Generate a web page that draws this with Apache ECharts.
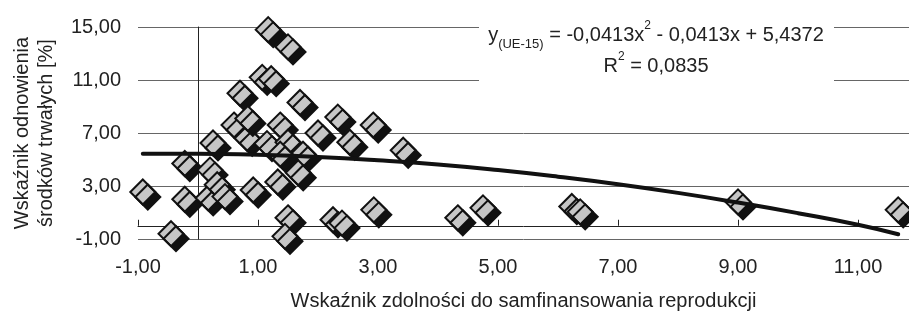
<!DOCTYPE html>
<html>
<head>
<meta charset="utf-8">
<script src="https://cdn.jsdelivr.net/npm/echarts@6/dist/echarts.min.js"></script>
<style>
  html, body { margin: 0; padding: 0; background: #fff; }
  #chart { width: 909px; height: 316px; }
</style>
</head>
<body>
<div id="chart"></div>
<script>
// punkty (x = zdolnosc do samofinansowania, y = wskaznik odnowienia)
var pointsX = [-0.92, -0.45, -0.22, -0.22, 0.2, 0.17, 0.32, 0.45, 0.92, 0.25,
               0.6, 0.82, 0.7, 0.83, 1.07, 1.22, 1.17, 1.5, 1.7, 1.37,
               1.15, 1.5, 1.75, 1.37, 1.67, 1.33, 2.0, 2.33, 2.53, 2.92,
               3.42, 1.5, 1.45, 2.25, 2.4, 2.93, 4.33, 4.75, 6.23, 6.37,
               9.0, 11.67];
var pointsY = [2.55, -0.6, 4.7, 2.0, 4.2, 2.1, 3.1, 2.2, 2.7, 6.25,
               7.6, 6.6, 10.0, 8.1, 11.2, 11.1, 14.8, 13.5, 9.3, 7.6,
               6.2, 6.3, 5.4, 5.4, 4.0, 3.3, 7.0, 8.2, 6.3, 7.6,
               5.7, 0.6, -0.8, 0.45, 0.2, 1.2, 0.6, 1.35, 1.45, 1.05,
               1.8, 1.2];

// linia trendu
var trendX = [-0.92, 0, 1, 2, 3, 4, 5, 6, 7, 8, 9, 10, 11, 11.67];
var trendY = [5.44, 5.44, 5.35, 5.19, 4.94, 4.62, 4.2, 3.7, 3.13, 2.48, 1.75, 0.95, 0.08, -0.64];

var xTicks = { min: -1, max: 11.85, interval: 2 };
var yTicks = { min: -1, max: 15, interval: 4 };

var FONT = 'Liberation Sans, Arial, sans-serif';

function fmt(v) {
    return v.toFixed(2).replace('.', ',');
}

var scatterData = pointsX.map(function (x, i) { return [x, pointsY[i]]; });
var trendData = trendX.map(function (x, i) { return [x, trendY[i]]; });

var myChart = echarts.init(document.getElementById('chart'));
var option = {
    backgroundColor: '#fff',
    animation: false,
    grid: { left: 138, right: 0, top: 27, bottom: 77 },
    xAxis: [
        {
            type: 'value',
            min: xTicks.min, max: xTicks.max, interval: xTicks.interval,
            axisLine: { show: false, onZero: false },
            axisTick: { show: false },
            splitLine: { show: false },
            axisLabel: { formatter: fmt, fontSize: 20, fontFamily: FONT, color: '#222', margin: 18, showMaxLabel: false },
            name: 'Wskaźnik zdolności do samfinansowania reprodukcji',
            nameLocation: 'middle',
            nameGap: 52,
            nameTextStyle: { fontSize: 20, fontFamily: FONT, color: '#222' }
        },
        {
            type: 'value',
            min: xTicks.min, max: xTicks.max, interval: xTicks.interval,
            axisLine: { show: true, onZero: true, lineStyle: { color: '#222', width: 1 } },
            axisTick: { show: true, length: 6, lineStyle: { color: '#222' } },
            splitLine: { show: false },
            axisLabel: { show: false }
        }
    ],
    yAxis: [
        {
            type: 'value',
            min: yTicks.min, max: yTicks.max, interval: yTicks.interval,
            axisLine: { show: false, onZero: false },
            axisTick: { show: false },
            splitLine: { show: true, lineStyle: { color: '#666', width: 1 } },
            axisLabel: { formatter: fmt, fontSize: 20, fontFamily: FONT, color: '#222', margin: 17 },
            name: 'Wskaźnik odnowienia\nśrodków trwałych [%]',
            nameLocation: 'middle',
            nameGap: 80,
            nameTextStyle: { fontSize: 20, fontFamily: FONT, color: '#222', lineHeight: 24 }
        },
        {
            type: 'value',
            min: yTicks.min, max: yTicks.max, interval: yTicks.interval,
            axisLine: { show: true, onZero: true, lineStyle: { color: '#222', width: 1 } },
            axisTick: { show: false },
            splitLine: { show: false },
            axisLabel: { show: false }
        }
    ],
    series: [
        {
            type: 'scatter',
            data: scatterData,
            symbol: 'diamond',
            symbolSize: 25,
            itemStyle: {
                color: '#c6c6c6',
                borderColor: '#111',
                borderWidth: 2,
                opacity: 1,
                shadowColor: '#111',
                shadowBlur: 0,
                shadowOffsetX: 5,
                shadowOffsetY: 5
            },
            z: 2
        },
        {
            type: 'line',
            data: trendData,
            smooth: true,
            showSymbol: false,
            lineStyle: { color: '#111', width: 4, cap: 'round' },
            z: 3
        }
    ],
    graphic: [
        {
            type: 'rect',
            shape: { x: 479, y: 18, width: 355, height: 70 },
            style: { fill: '#fff' },
            z: 10
        },
        {
            type: 'text',
            x: 656,
            y: 20,
            z: 11,
            style: {
                text: '{n|y}{sub|(UE-15)}{n| = -0,0413x}{sup|2}{n| - 0,0413x + 5,4372}\n{n|R}{sup|2}{n| = 0,0835}',
                align: 'center',
                verticalAlign: 'top',
                fill: '#222',
                rich: {
                    n: { fontSize: 20, fontFamily: FONT, lineHeight: 31, fill: '#222' },
                    sub: { fontSize: 13, fontFamily: FONT, lineHeight: 12, verticalAlign: 'bottom', fill: '#222' },
                    sup: { fontSize: 12, fontFamily: FONT, lineHeight: 28, verticalAlign: 'top', fill: '#222' }
                }
            }
        }
    ]
};
myChart.setOption(option);
</script>
</body>
</html>
